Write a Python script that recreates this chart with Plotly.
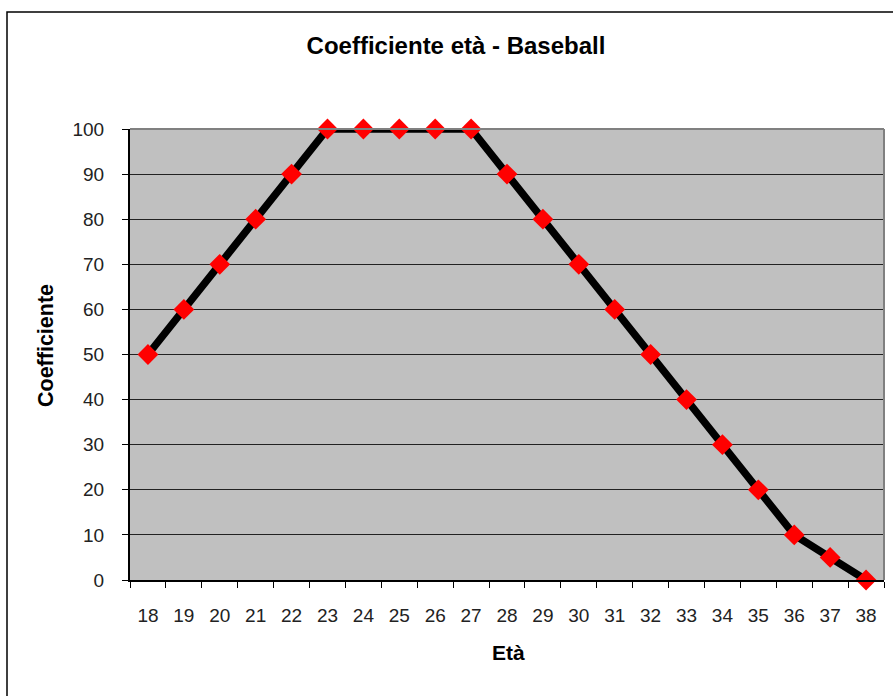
import plotly.graph_objects as go

eta = [str(v) for v in range(18, 39)]
coefficiente = [50, 60, 70, 80, 90, 100, 100, 100, 100, 100, 90, 80, 70, 60, 50, 40, 30, 20, 10, 5, 0]
y_ticks = list(range(0, 101, 10))

W, H = 893, 696
L, R, T, B = 130, 9, 129, 116
pw, ph = W - L - R, H - T - B

fig = go.Figure()
fig.add_trace(go.Scatter(x=eta, y=coefficiente, mode="lines",
                         line=dict(color="black", width=7.5),
                         cliponaxis=True, hoverinfo="skip", showlegend=False))
fig.add_trace(go.Scatter(x=eta, y=coefficiente, mode="markers",
                         marker=dict(symbol="diamond", size=16, color="#FF0000",
                                     line=dict(width=0)),
                         cliponaxis=False, showlegend=False))

def px2x(p):
    return (p - L) / pw

def px2y(p):
    return (H - B - p) / ph

fig.update_layout(
    width=W, height=H,
    margin=dict(l=L, r=R, t=T, b=B, pad=0),
    paper_bgcolor="white",
    plot_bgcolor="#C0C0C0",
    font=dict(family="Liberation Sans, Arial, sans-serif", color="black"),
    title=dict(text="<b>Coefficiente età - Baseball</b>", x=456 / W, xref="container",
               xanchor="center", y=1 - 46 / H, yref="container", yanchor="middle",
               font=dict(size=24, color="black")),
    xaxis=dict(type="category", range=[-0.5, len(eta) - 0.5], tickson="boundaries",
               ticks="outside", ticklen=6,
               tickcolor="black", tickwidth=1, showline=True, linecolor="black",
               linewidth=2, showgrid=False, tickfont=dict(size=19, color="#222"),
               ticklabelstandoff=17, zeroline=False),
    yaxis=dict(range=[0, 100], tickvals=y_ticks, ticks="outside", ticklen=6,
               tickcolor="black", tickwidth=1, showline=True, linecolor="black",
               linewidth=2, showgrid=True, gridcolor="#222222", gridwidth=1,
               tickfont=dict(size=19, color="#222"), ticklabelstandoff=14,
               zeroline=False),
    annotations=[
        dict(text="<b>Coefficiente</b>", xref="paper", yref="paper",
             x=px2x(46), y=px2y(346), textangle=-90, showarrow=False,
             xanchor="center", yanchor="middle", font=dict(size=21.5, color="black")),
        dict(text="<b>Età</b>", xref="paper", yref="paper",
             x=px2x(508), y=px2y(652), showarrow=False,
             xanchor="center", yanchor="middle", font=dict(size=21, color="black")),
    ],
    shapes=[
        dict(type="line", xref="paper", yref="paper", x0=0, x1=1, y0=1, y1=1,
             line=dict(color="#808080", width=2), layer="above"),
        dict(type="line", xref="paper", yref="paper", x0=1, x1=1, y0=0, y1=1,
             line=dict(color="#808080", width=2), layer="above"),
        dict(type="rect", xref="paper", yref="paper",
             x0=px2x(7), x1=px2x(910), y0=px2y(12), y1=px2y(720),
             line=dict(color="black", width=1.5), layer="above"),
    ],
)

fig.write_html("out.html", config={"displayModeBar": False},
               post_script="document.body.style.margin='0px';")
